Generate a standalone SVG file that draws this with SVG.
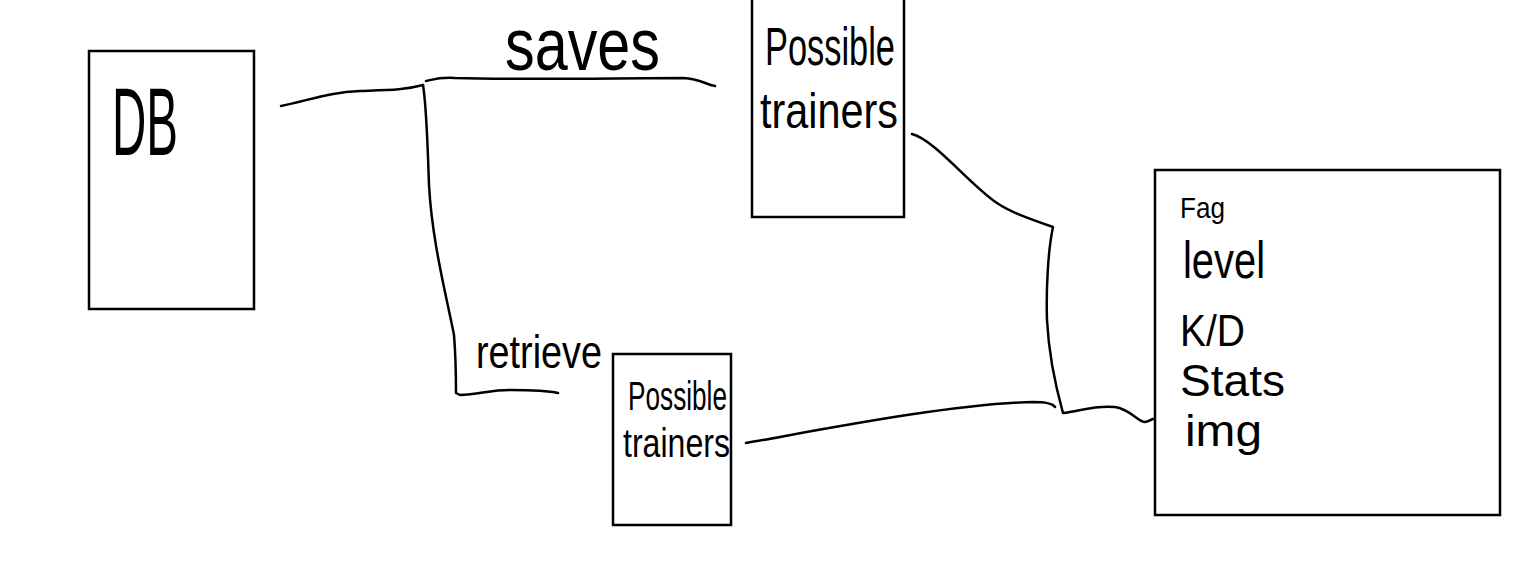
<svg xmlns="http://www.w3.org/2000/svg" width="1536" height="564" viewBox="0 0 1536 564">
  <style>
    .box { fill: none; stroke: #000; stroke-width: 2.5; }
    .wire { fill: none; stroke: #000; stroke-width: 2.5; stroke-linecap: round; stroke-linejoin: round; }
    .hand { font-family: "Liberation Sans", "DejaVu Sans", sans-serif; fill: #000; }
  </style>
  <rect width="1536" height="564" fill="#fff"/>

  <!-- connectors -->
  <g id="connectors">
    <!-- DB to the split point -->
    <path class="wire" d="M281,106 C310,100 330,92 360,91 C390,90 405,90 423,85"/>
    <!-- saves branch -->
    <path class="wire" d="M426,81 C435,79 440,77 455,78 C520,80 620,78 683,78 C700,79 705,84 715,86"/>
    <!-- retrieve branch -->
    <path class="wire" d="M423,85 C427,110 428,160 429,185 C432,240 445,290 454,335 C456,360 456,380 456,393 L460,395 C480,394 490,390 510,390 C530,390 545,390 558,393"/>
    <!-- upper trainers to the stats card -->
    <path class="wire" d="M912,134 C935,140 970,185 997,203 C1010,212 1030,219 1053,227 C1048,250 1046,290 1047,320 C1049,360 1058,395 1063,413 C1080,411 1095,405 1115,407 C1130,409 1138,422 1145,422 C1148,422 1150,420 1153,419"/>
    <!-- lower trainers to the stats card -->
    <path class="wire" d="M746,443 C820,430 950,404 1033,402 C1048,402 1053,404 1055,407"/>
  </g>

  <g id="db">
    <rect class="box" x="89" y="51" width="165" height="258"/>
    <text class="hand" x="112" y="155" font-size="96" textLength="66" lengthAdjust="spacingAndGlyphs">DB</text>
  </g>

  <g id="saves-label">
    <text class="hand" x="505" y="70" font-size="74" textLength="155" lengthAdjust="spacingAndGlyphs">saves</text>
  </g>

  <g id="retrieve-label">
    <text class="hand" x="476" y="368" font-size="46" textLength="126" lengthAdjust="spacingAndGlyphs">retrieve</text>
  </g>

  <g id="trainers-saved">
    <path class="box" d="M752,-5 L752,217 L904,217 L904,-5"/>
    <text class="hand" x="765" y="65" font-size="54" textLength="130" lengthAdjust="spacingAndGlyphs">Possible</text>
    <text class="hand" x="760" y="128" font-size="50" textLength="138" lengthAdjust="spacingAndGlyphs">trainers</text>
  </g>

  <g id="trainers-retrieved">
    <rect class="box" x="613" y="354" width="118" height="171"/>
    <text class="hand" x="628" y="410" font-size="40" textLength="99" lengthAdjust="spacingAndGlyphs">Possible</text>
    <text class="hand" x="623" y="457" font-size="40" textLength="107" lengthAdjust="spacingAndGlyphs">trainers</text>
  </g>

  <g id="player-card">
    <rect class="box" x="1155" y="170" width="345" height="345"/>
    <text class="hand" x="1180" y="218" font-size="30" textLength="45" lengthAdjust="spacingAndGlyphs">Fag</text>
    <text class="hand" x="1183" y="278" font-size="52" textLength="82" lengthAdjust="spacingAndGlyphs">level</text>
    <text class="hand" x="1180" y="346" font-size="44" textLength="65" lengthAdjust="spacingAndGlyphs">K/D</text>
    <text class="hand" x="1180" y="396" font-size="44" textLength="105" lengthAdjust="spacingAndGlyphs">Stats</text>
    <text class="hand" x="1185" y="446" font-size="44" textLength="77" lengthAdjust="spacingAndGlyphs">img</text>
  </g>
</svg>
